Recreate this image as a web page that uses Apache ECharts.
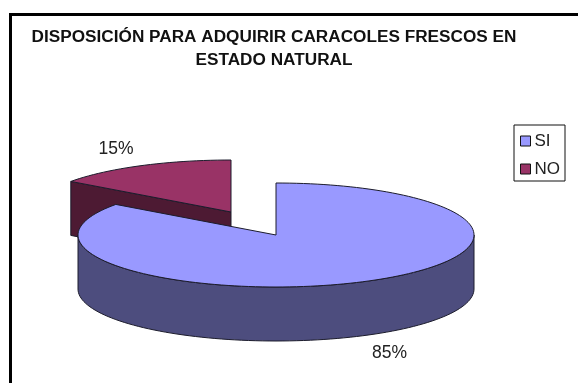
<!DOCTYPE html>
<html><head><meta charset="utf-8">
<script src="https://cdn.jsdelivr.net/npm/echarts@6/dist/echarts.min.js"></script>
<style>html,body{margin:0;padding:0;background:#fff}#c{width:578px;height:383px}</style>
</head><body><div id="c"></div>
<script>
const categories = ['SI', 'NO'];
const seriesValues = [85, 15];
const valueLabels = ['85%', '15%'];
const chartTitle = 'DISPOSICIÓN PARA ADQUIRIR CARACOLES FRESCOS EN\nESTADO NATURAL';

const topColors = ['#9999FF', '#993366'];
const sideColors = ['#4D4D7E', '#4D1A33'];
const centers = [[276, 235], [231, 212]];
const labelPos = [[389.5, 353.5], [116, 149]];
const RX = 198, RY = 52, DEPTH = 54, EDGE = '#1c1c2c';
const total = seriesValues.reduce((a, b) => a + b, 0);

function pt(c, deg, dy) {
  const r = deg * Math.PI / 180;
  return [c[0] + RX * Math.sin(r), c[1] - RY * Math.cos(r) + (dy || 0)];
}
function arc(c, a0, a1, dy) {
  const n = Math.max(2, Math.ceil(Math.abs(a1 - a0) / 2)), out = [];
  for (let i = 0; i <= n; i++) out.push(pt(c, a0 + (a1 - a0) * i / n, dy));
  return out;
}
function sliceRenderer(idx) {
  return function (params, api) {
    const val = api.value(0);
    let start = 0;
    for (let i = 0; i < idx; i++) start += seriesValues[i] / total * 360;
    const end = start + val / total * 360;
    const c = centers[idx];
    const style = (fill) => ({ fill, stroke: EDGE, lineWidth: 1, lineJoin: 'round' });
    const children = [];
    const w0 = Math.max(start, 90), w1 = Math.min(end, 270);
    if (w1 > w0) {
      const points = arc(c, w0, w1, 0).concat(arc(c, w1, w0, DEPTH));
      children.push({ type: 'polygon', shape: { points }, style: style(sideColors[idx]) });
    }
    if (start > 180 && start < 360) {
      const p = pt(c, start, 0);
      const points = [p, c, [c[0], c[1] + DEPTH], [p[0], p[1] + DEPTH]];
      children.push({ type: 'polygon', shape: { points }, style: style(sideColors[idx]) });
    }
    children.push({
      type: 'polygon',
      shape: { points: [c].concat(arc(c, start, end, 0)) },
      style: style(topColors[idx])
    });
    children.push({
      type: 'text',
      style: {
        x: labelPos[idx][0], y: labelPos[idx][1],
        text: valueLabels[idx], align: 'center', verticalAlign: 'middle',
        fill: '#222', font: '17.5px "Liberation Sans", Arial, sans-serif'
      }
    });
    return { type: 'group', children };
  };
}

const chart = echarts.init(document.getElementById('c'), null, { renderer: 'canvas' });
chart.setOption({
  animation: false,
  backgroundColor: '#fff',
  title: {
    text: chartTitle, left: 274, top: 23, textAlign: 'center', padding: [3, 0, 0, 0],
    textStyle: { fontFamily: '"Liberation Sans", Arial, sans-serif', fontSize: 17.2, fontWeight: 'bold', color: '#111', lineHeight: 23, width: 520 }
  },
  legend: {
    orient: 'vertical', left: 514, top: 125, padding: [7, 5, 3, 6],
    itemWidth: 10, itemHeight: 10, itemGap: 10,
    backgroundColor: '#fff', borderColor: '#111', borderWidth: 1, borderRadius: 0,
    data: categories.map((name, i) => ({
      name, icon: 'rect',
      itemStyle: { color: topColors[i], borderColor: '#111', borderWidth: 1 }
    })),
    textStyle: { fontFamily: '"Liberation Sans", Arial, sans-serif', fontSize: 17, color: '#222', padding: [0, 0, 0, -1], lineHeight: 18 }
  },
  graphic: [
    { type: 'rect', shape: { x: 9, y: 13, width: 569, height: 3 }, style: { fill: '#000' } },
    { type: 'rect', shape: { x: 9, y: 13, width: 3, height: 370 }, style: { fill: '#000' } }
  ],
  series: [1, 0].map(i => ({
    type: 'custom',
    name: categories[i],
    coordinateSystem: 'none',
    itemStyle: { color: topColors[i] },
    renderItem: sliceRenderer(i),
    data: [[seriesValues[i]]]
  }))
});
</script></body></html>
